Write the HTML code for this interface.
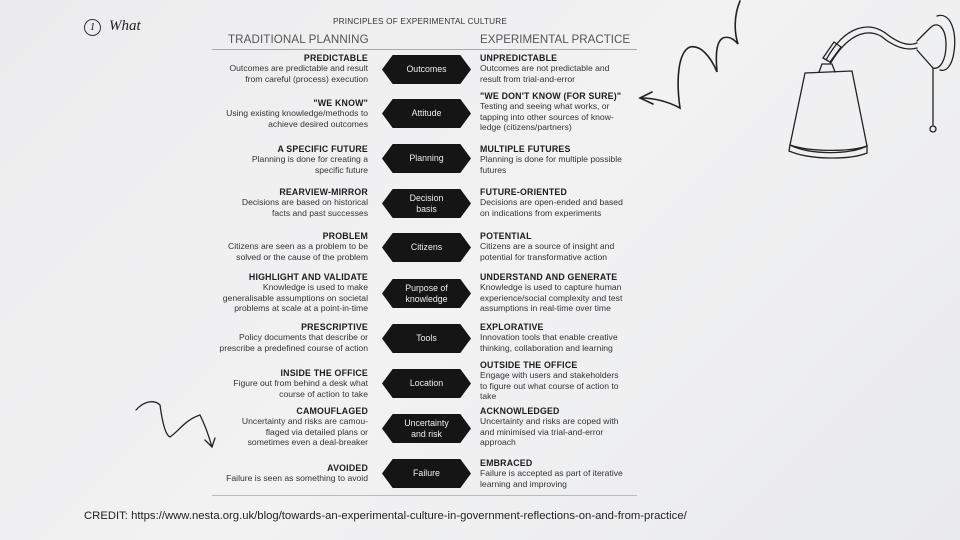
<!DOCTYPE html>
<html><head><meta charset="utf-8"><style>
body{margin:0;width:960px;height:540px;overflow:hidden;background:linear-gradient(135deg,#ececee,#f2f2f3 50%,#e9eaec);font-family:"Liberation Sans",sans-serif;position:relative;color:#222}
.a{position:absolute}
.L{position:absolute;right:592px;text-align:right;font-size:8.6px;line-height:10.4px;color:#333;white-space:nowrap}
.R{position:absolute;left:480px;text-align:left;font-size:8.6px;line-height:10.4px;color:#333;white-space:nowrap}
.L b,.R b{font-size:8.8px;color:#1c1c1c;letter-spacing:.2px;display:block}
.h{position:absolute;left:382px;width:89px;height:29px;background:#151515;clip-path:polygon(12% 0,88% 0,100% 50%,88% 100%,12% 100%,0 50%);color:#eee;font-size:8.8px;line-height:10.5px;display:flex;align-items:center;justify-content:center;text-align:center}
</style></head><body>
<div class="a" style="left:84px;top:18px;font-family:'Liberation Serif',serif;font-style:italic;font-size:15px;color:#222"><span style="display:inline-block;width:15px;height:15px;border:1px solid #333;border-radius:50%;text-align:center;line-height:15px;font-size:11px;margin-right:8px">1</span>What</div>
<div class="a" style="left:333px;top:17px;font-size:8.2px;color:#333;letter-spacing:.2px">PRINCIPLES OF EXPERIMENTAL CULTURE</div>
<div class="a" style="left:228px;top:33px;font-size:11.6px;color:#555;letter-spacing:.1px">TRADITIONAL PLANNING</div>
<div class="a" style="left:480px;top:33px;font-size:11.6px;color:#555;letter-spacing:0">EXPERIMENTAL PRACTICE</div>
<div class="a" style="left:212px;top:49px;width:425px;height:1px;background:#aaa"></div>
<div class="a" style="left:212px;top:495px;width:425px;height:1px;background:#bbb"></div>

<div class="h" style="top:55px">Outcomes</div>
<div class="h" style="top:99px">Attitude</div>
<div class="h" style="top:144px">Planning</div>
<div class="h" style="top:189px">Decision<br>basis</div>
<div class="h" style="top:233px">Citizens</div>
<div class="h" style="top:279px">Purpose of<br>knowledge</div>
<div class="h" style="top:324px">Tools</div>
<div class="h" style="top:369px">Location</div>
<div class="h" style="top:414px">Uncertainty<br>and risk</div>
<div class="h" style="top:459px">Failure</div>

<div class="L" style="top:53px"><b>PREDICTABLE</b>Outcomes are predictable and result<br>from careful (process) execution</div>
<div class="L" style="top:98px"><b>"WE KNOW"</b>Using existing knowledge/methods to<br>achieve desired outcomes</div>
<div class="L" style="top:144px"><b>A SPECIFIC FUTURE</b>Planning is done for creating a<br>specific future</div>
<div class="L" style="top:187px"><b>REARVIEW-MIRROR</b>Decisions are based on historical<br>facts and past successes</div>
<div class="L" style="top:231px"><b>PROBLEM</b>Citizens are seen as a problem to be<br>solved or the cause of the problem</div>
<div class="L" style="top:272px"><b>HIGHLIGHT AND VALIDATE</b>Knowledge is used to make<br>generalisable assumptions on societal<br>problems at scale at a point-in-time</div>
<div class="L" style="top:322px"><b>PRESCRIPTIVE</b>Policy documents that describe or<br>prescribe a predefined course of action</div>
<div class="L" style="top:368px"><b>INSIDE THE OFFICE</b>Figure out from behind a desk what<br>course of action to take</div>
<div class="L" style="top:406px"><b>CAMOUFLAGED</b>Uncertainty and risks are camou-<br>flaged via detailed plans or<br>sometimes even a deal-breaker</div>
<div class="L" style="top:463px"><b>AVOIDED</b>Failure is seen as something to avoid</div>

<div class="R" style="top:53px"><b>UNPREDICTABLE</b>Outcomes are not predictable and<br>result from trial-and-error</div>
<div class="R" style="top:91px"><b>"WE DON'T KNOW (FOR SURE)"</b>Testing and seeing what works, or<br>tapping into other sources of know-<br>ledge (citizens/partners)</div>
<div class="R" style="top:144px"><b>MULTIPLE FUTURES</b>Planning is done for multiple possible<br>futures</div>
<div class="R" style="top:187px"><b>FUTURE-ORIENTED</b>Decisions are open-ended and based<br>on indications from experiments</div>
<div class="R" style="top:231px"><b>POTENTIAL</b>Citizens are a source of insight and<br>potential for transformative action</div>
<div class="R" style="top:272px"><b>UNDERSTAND AND GENERATE</b>Knowledge is used to capture human<br>experience/social complexity and test<br>assumptions in real-time over time</div>
<div class="R" style="top:322px"><b>EXPLORATIVE</b>Innovation tools that enable creative<br>thinking, collaboration and learning</div>
<div class="R" style="top:360px"><b>OUTSIDE THE OFFICE</b>Engage with users and stakeholders<br>to figure out what course of action to<br>take</div>
<div class="R" style="top:406px"><b>ACKNOWLEDGED</b>Uncertainty and risks are coped with<br>and minimised via trial-and-error<br>approach</div>
<div class="R" style="top:458px"><b>EMBRACED</b>Failure is accepted as part of iterative<br>learning and improving</div>

<div class="a" style="left:84px;top:510px;font-size:11.3px;color:#222">CREDIT: https://www.nesta.org.uk/blog/towards-an-experimental-culture-in-government-reflections-on-and-from-practice/</div>

<svg class="a" style="left:0;top:0" width="960" height="540" fill="none" stroke="#222" stroke-width="1.6" stroke-linecap="round">
<path d="M740 1 C734 15 734 32 738 44 C733 38 728 36 723 38 C715 42 716 60 717 72 C710 55 700 45 690 47 C678 52 676 80 680 108 C665 100 650 98 640 98"/>
<path d="M652 92 L640 98 L653 104"/>
<path d="M136 410 C145 400 155 400 160 405 C162 420 165 435 170 437 C180 430 185 420 200 415 C205 425 210 440 212 447 M205 440 L212 447 L215 438" stroke-width="1.3"/>
<g stroke-width="1.3">
<path d="M826 60 C845 25 870 20 888 35 C900 44 910 46 917 43"/>
<path d="M830 64 C850 30 872 27 886 40 C900 50 910 50 917 48"/>
<path d="M823 58 L834 42 L841 47 L830 62 Z"/>
<path d="M819 72 L822 64 L832 64 L835 72"/>
<path d="M805 73 L852 71 L867 146 C850 152 810 152 790 145 Z"/>
<path d="M790 145 C810 155 850 155 867 146 L867 153 C850 160 810 160 789 151 Z"/>
<path d="M917 41 L930 28 C938 20 946 28 946 45 C946 60 940 70 933 68 L917 50"/>
<path d="M937 16 C950 12 957 30 954 52 C952 66 946 72 940 70"/>
<path d="M933 68 L933 125"/><circle cx="933" cy="129" r="3"/>
</g>
</svg>
</body></html>
